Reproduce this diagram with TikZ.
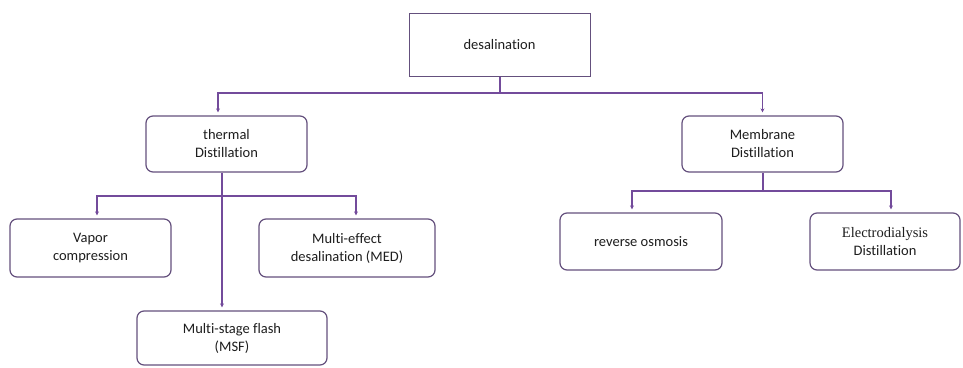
\documentclass[tikz,border=0pt]{standalone}
\usepackage{fontspec}
\setmainfont[Ligatures={NoCommon}]{Carlito}
\newfontfamily\serifed{Liberation Serif}
\usetikzlibrary{arrows.meta}
\definecolor{lineP}{RGB}{115,75,155}
\definecolor{boxP}{RGB}{100,80,125}
\definecolor{txt}{RGB}{30,30,30}
\begin{document}
\begin{tikzpicture}[x=1pt,y=-1pt,
  box/.style={draw=boxP,line width=1pt,fill=white,text=txt,align=center,
    inner sep=2pt,font=\fontsize{14.5}{18}\selectfont},
  rbox/.style={box,rounded corners=7pt,line width=1.2pt},
  link/.style={draw=lineP,line width=1.3pt},
  arr/.style={link,-{Stealth[length=4pt,width=4pt]},shorten >=3pt}]
\useasboundingbox (0,0) rectangle (963,367);
\node[box,minimum width=181pt,minimum height=63pt] (des) at (499.5,45) {desalination};
\node[rbox,minimum width=161pt,minimum height=56pt] (thermal) at (226.5,144) {thermal\\Distillation};
\node[rbox,minimum width=161pt,minimum height=56pt] (membrane) at (762.5,144) {Membrane\\Distillation};
\node[rbox,minimum width=161pt,minimum height=58pt] (vapor) at (90.5,248) {Vapor\\compression};
\node[rbox,minimum width=176pt,minimum height=58pt] (med) at (347,248) {Multi-effect\\desalination (MED)};
\node[rbox,minimum width=190pt,minimum height=54pt] (msf) at (232,338) {Multi-stage flash\\(MSF)};
\node[rbox,minimum width=162pt,minimum height=57pt] (ro) at (641,241.5) {reverse osmosis};
\node[rbox,minimum width=150pt,minimum height=57pt] (ed) at (885,241.5) {{\serifed Electrodialysis}\\Distillation};
% top level
\coordinate (j1) at (500,93);
\draw[link] (des.south -| j1) -- (j1);
\draw[arr] (j1) -| ([xshift=-8.5pt]thermal.north);
\draw[arr] (j1) -| (membrane.north);
% thermal branch
\coordinate (j2) at (222,196);
\draw[link] (thermal.south -| j2) -- (j2);
\draw[arr] (j2) -- (j2 |- msf.north);
\draw[arr] (j2) -| ([xshift=6.5pt]vapor.north);
\draw[arr] (j2) -| ([xshift=9pt]med.north);
% membrane branch
\coordinate (j3) at (763,191);
\draw[link] (membrane.south -| j3) -- (j3);
\draw[arr] (j3) -| ([xshift=-9pt]ro.north);
\draw[arr] (j3) -| ([xshift=6pt]ed.north);
\end{tikzpicture}
\end{document}
